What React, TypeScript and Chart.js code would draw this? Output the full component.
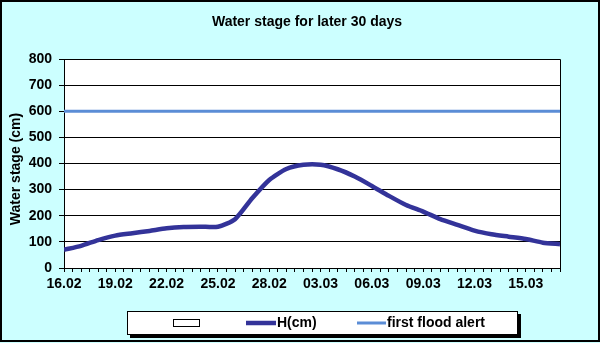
import React, { useEffect, useRef } from 'react';
import { Chart, registerables } from 'chart.js';

Chart.register(...registerables);

const FONT = "'Liberation Sans', Arial, sans-serif";

const dates = [
  '16.02', '17.02', '18.02', '19.02', '20.02', '21.02', '22.02', '23.02', '24.02', '25.02',
  '26.02', '27.02', '28.02', '01.03', '02.03', '03.03', '04.03', '05.03', '06.03', '07.03',
  '08.03', '09.03', '10.03', '11.03', '12.03', '13.03', '14.03', '15.03', '16.03', '17.03',
];
const waterStage = [
  70, 85, 107, 124, 133, 142, 152, 157, 158, 158,
  187, 267, 337, 379, 395, 395, 378, 350, 314, 276,
  241, 216, 187, 165, 143, 129, 120, 111, 97, 91,
];
const floodAlert = [
  600, 600, 600, 600, 600, 600, 600, 600, 600, 600,
  600, 600, 600, 600, 600, 600, 600, 600, 600, 600,
  600, 600, 600, 600, 600, 600, 600, 600, 600, 600,
];
const seriesNames = ['H(cm)', 'first flood alert'];
const chartTitle = 'Water stage for later 30 days';
const yTitle = 'Water stage (cm)';
const labelEvery = 3;

const decor = {
  id: 'decor',
  beforeDraw(chart: any) {
    const { ctx, chartArea: a, width, height } = chart;
    ctx.save();
    ctx.fillStyle = '#CCFFFF';
    ctx.fillRect(0, 0, width, height);
    ctx.fillStyle = '#FFFFFF';
    ctx.fillRect(a.left, a.top, a.right - a.left, a.bottom - a.top);
    ctx.restore();
  },
  afterDraw(chart: any) {
    const { ctx, chartArea: a } = chart;
    ctx.save();
    // plot border (top and right)
    ctx.strokeStyle = '#000';
    ctx.lineWidth = 1;
    ctx.beginPath();
    ctx.moveTo(a.left, a.top + 0.5);
    ctx.lineTo(a.right + 0.5, a.top + 0.5);
    ctx.lineTo(a.right + 0.5, a.bottom);
    ctx.stroke();
    // outer frame
    ctx.lineWidth = 2;
    ctx.strokeRect(1, 1, 598, 340);
    // title
    ctx.fillStyle = '#000';
    ctx.font = `bold 14px ${FONT}`;
    ctx.textAlign = 'center';
    ctx.textBaseline = 'middle';
    ctx.fillText(chartTitle, 307, 22);
    // y axis title
    ctx.save();
    ctx.translate(16, 169);
    ctx.rotate(-Math.PI / 2);
    ctx.fillText(yTitle, 0, 0);
    ctx.restore();
    // legend
    const lx = 127, ly = 311, lw = 391, lh = 24;
    ctx.fillStyle = '#000';
    ctx.fillRect(lx + 3, ly + 3, lw, lh);
    ctx.fillStyle = '#fff';
    ctx.fillRect(lx, ly, lw, lh);
    ctx.lineWidth = 1;
    ctx.strokeStyle = '#000';
    ctx.strokeRect(lx + 0.5, ly + 0.5, lw - 1, lh - 1);
    const cy = 323;
    ctx.strokeRect(173.5, 319.5, 26, 7);
    const ds = chart.data.datasets;
    const items = [
      { x0: 246, x1: 276, tx: 277, d: ds[0] },
      { x0: 357, x1: 386, tx: 387, d: ds[1] },
    ];
    ctx.font = `bold 14px ${FONT}`;
    ctx.textAlign = 'left';
    ctx.textBaseline = 'middle';
    for (const it of items) {
      ctx.strokeStyle = it.d.borderColor;
      ctx.lineWidth = it.d.borderWidth;
      ctx.beginPath();
      ctx.moveTo(it.x0, cy);
      ctx.lineTo(it.x1, cy);
      ctx.stroke();
      ctx.fillStyle = '#000';
      ctx.fillText(it.d.label, it.tx, cy);
    }
    ctx.restore();
  },
};

export default function App() {
  const ref = useRef<HTMLCanvasElement | null>(null);
  useEffect(() => {
    document.body.style.margin = '0';
    const c = ref.current!;
    const chart = new Chart(c, {
      type: 'line',
      data: {
        datasets: [
          {
            label: seriesNames[0],
            data: dates.map((_, i) => ({ x: i, y: waterStage[i] })),
            borderColor: '#333399',
            borderWidth: 4.5,
            pointRadius: 0,
            tension: 0.22,
            fill: false,
            order: 1,
          },
          {
            label: seriesNames[1],
            data: dates.map((_, i) => ({ x: i, y: floodAlert[i] })),
            borderColor: '#5B8DD6',
            borderWidth: 3,
            pointRadius: 0,
            tension: 0,
            fill: false,
            order: 2,
          },
        ],
      },
      options: {
        animation: false,
        responsive: false,
        events: [],
        layout: { padding: { left: 0, right: 40, top: 59, bottom: 55 } },
        plugins: {
          legend: { display: false },
          title: { display: false },
          tooltip: { enabled: false },
        },
        scales: {
          x: {
            type: 'linear',
            min: 0,
            max: dates.length - 1,
            afterFit: (s: any) => { s.height = 20; },
            grid: {
              drawOnChartArea: false,
              drawTicks: true,
              tickLength: 4,
              color: '#000',
            },
            border: { display: true, color: '#000', width: 1 },
            ticks: {
              stepSize: 0.5,
              autoSkip: false,
              maxRotation: 0,
              minRotation: 0,
              padding: 4,
              color: '#000',
              font: { family: FONT, size: 14, weight: 'bold' },
              callback: (v: any) => {
                const n = Number(v);
                if (Number.isInteger(n) && n % labelEvery === 0) return dates[n];
                return '';
              },
            },
          },
          y: {
            min: 0,
            max: 800,
            afterFit: (s: any) => { s.width = 64; },
            grid: {
              color: '#000',
              lineWidth: 1,
              drawTicks: true,
              tickLength: 5,
            },
            border: { display: true, color: '#000', width: 1 },
            ticks: {
              stepSize: 100,
              padding: 7,
              color: '#000',
              font: { family: FONT, size: 14, weight: 'bold' },
            },
            title: { display: false },
          },
        },
      },
      plugins: [decor],
    } as any);
    return () => chart.destroy();
  }, []);
  return (
    <div style={{ position: 'absolute', left: 0, top: 0, width: 600, height: 343 }}>
      <canvas ref={ref} width={600} height={343} />
    </div>
  );
}
